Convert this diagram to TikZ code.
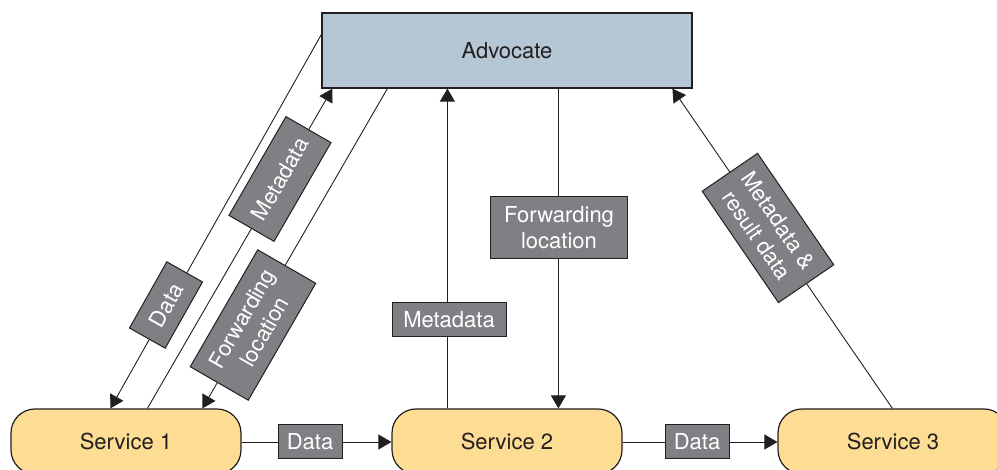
\documentclass[tikz,border=0pt]{standalone}
\usepackage{fontspec}
\setmainfont{TeX Gyre Heros}
\usetikzlibrary{arrows.meta,calc}
\definecolor{advblue}{HTML}{B5C7D5}
\definecolor{svcfill}{HTML}{FDDC94}
\definecolor{lblgray}{HTML}{7F8084}
\definecolor{ink}{HTML}{231F20}
\begin{document}
\begin{tikzpicture}[x=1pt,y=-1pt,
  font=\fontsize{22}{26}\selectfont,
  advbox/.style={draw=ink, line width=1.2pt, fill=advblue, minimum width=370pt, minimum height=75pt, inner sep=0pt, text=ink},
  svc/.style={draw=ink, line width=1.2pt, fill=svcfill, rounded corners=24pt, minimum width=230pt, minimum height=65pt, inner sep=0pt, text=ink},
  lbl/.style={draw=ink, line width=1pt, fill=lblgray, text=white, inner sep=0pt, align=center},
  conn/.style={draw=ink, line width=0.9pt},
  arr/.style={conn, -{Triangle[length=13pt,width=15pt]}},
]
\useasboundingbox (0,0) rectangle (997,470);
\clip (0,0) rectangle (997,470);

\node[advbox] (adv) at (507,50.5) {Advocate};
\node[svc] (s1) at (126,441.5) {Service 1};
\node[svc] (s2) at (507,441.5) {Service 2};
\node[svc] (s3) at (893,441.5) {Service 3};

% connectors
\draw[arr] (s1.east |- 0,442) -- (s2.west |- 0,442);
\draw[arr] (s2.east |- 0,442) -- (s3.west |- 0,442);
\draw[arr] ($(s2.north west)+(56,0)$) -- ($(adv.south west)+(126,0)$);
\draw[arr] ($(adv.south west)+(237,0)$) -- ($(s2.north west)+(167,0)$);
\draw[arr] ($(s3.north west)+(115,0)$) -- ($(adv.south west)+(351,0)$);
\draw[arr] ($(adv.north west)+(0,22)$) -- ($(s1.north west)+(100,0)$);
\draw[arr] ($(s1.north west)+(137,0)$) -- ($(adv.south west)+(11,0)$);
\draw[arr] ($(adv.south west)+(66,0)$) -- ($(s1.north west)+(192,0)$);

% labels
\node[lbl, minimum width=64pt, minimum height=34pt] (l1) at (310,442) {Data};
\node[lbl, minimum width=64pt, minimum height=34pt] (l2) at (697,442) {Data};
\node[lbl, minimum width=114pt, minimum height=34pt] (l3) at (449,320) {Metadata};
\node[lbl, minimum width=137pt, minimum height=62pt] (l4) at (559,228) {Forwarding\\location};
\node[lbl, minimum width=135pt, minimum height=67pt, rotate=-55.6] (l5) at (768,228) {Metadata \&\\result data};
\node[lbl, minimum width=76pt, minimum height=41pt, rotate=60.6] (l6) at (166,305) {Data};
\node[lbl, minimum width=114pt, minimum height=52pt, rotate=60] (l7) at (280,179) {Metadata};
\node[lbl, minimum width=135pt, minimum height=67pt, rotate=60] (l8) at (253,325) {Forwarding\\location};
\end{tikzpicture}
\end{document}
